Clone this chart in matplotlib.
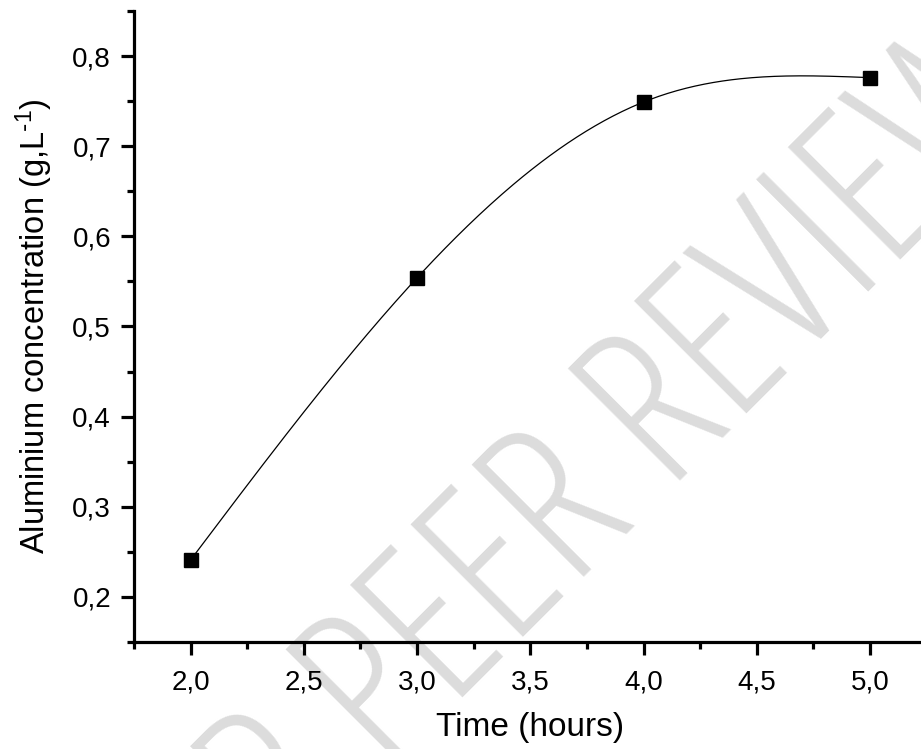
import numpy as np
import matplotlib.pyplot as plt

plt.rcParams['font.family'] = ['Liberation Sans', 'DejaVu Sans']
plt.rcParams['mathtext.default'] = 'regular'

# Data
time_h = [2.0, 3.0, 4.0, 5.0]
al_conc = [0.241, 0.554, 0.749, 0.776]

x_ticks = [2.0, 2.5, 3.0, 3.5, 4.0, 4.5, 5.0]
x_labels = ['2,0', '2,5', '3,0', '3,5', '4,0', '4,5', '5,0']
y_ticks = [0.2, 0.3, 0.4, 0.5, 0.6, 0.7, 0.8]
y_labels = ['0,2', '0,3', '0,4', '0,5', '0,6', '0,7', '0,8']


def natural_spline(x, y, xs):
    # natural cubic spline through the points (smooth connecting line)
    x = np.asarray(x, float)
    y = np.asarray(y, float)
    n = len(x)
    h = np.diff(x)
    A = np.zeros((n, n))
    b = np.zeros(n)
    A[0, 0] = A[-1, -1] = 1
    for i in range(1, n - 1):
        A[i, i - 1] = h[i - 1]
        A[i, i] = 2 * (h[i - 1] + h[i])
        A[i, i + 1] = h[i]
        b[i] = 6 * ((y[i + 1] - y[i]) / h[i] - (y[i] - y[i - 1]) / h[i - 1])
    M = np.linalg.solve(A, b)
    idx = np.clip(np.searchsorted(x, xs) - 1, 0, n - 2)
    x0, x1 = x[idx], x[idx + 1]
    hh = x1 - x0
    t0, t1 = x1 - xs, xs - x0
    return (M[idx] * t0**3 / (6 * hh) + M[idx + 1] * t1**3 / (6 * hh)
            + (y[idx] / hh - M[idx] * hh / 6) * t0
            + (y[idx + 1] / hh - M[idx + 1] * hh / 6) * t1)


fig = plt.figure(figsize=(9.21, 7.49), dpi=100)
ax = fig.add_axes([0.1455, 0.1429, 0.8607, 0.8425])
ax.patch.set_alpha(0)

# watermark
fig.text(0.656, 0.258, 'FOR PEER REVIEW', rotation=45, rotation_mode='anchor',
         ha='center', va='baseline', fontsize=160, color='#dcdcdc',
         family='Open Sans', fontstretch='condensed', zorder=-1)

xs = np.linspace(time_h[0], time_h[-1], 300)
ax.plot(xs, natural_spline(time_h, al_conc, xs), color='black', linewidth=0.9)
ax.plot(time_h, al_conc, 's', color='black', markersize=9.5)

ax.set_xlim(1.75, 5.25)
ax.set_ylim(0.15, 0.85)

ax.set_xticks(x_ticks)
ax.set_xticklabels(x_labels)
ax.set_xticks(np.arange(1.75, 5.3, 0.25), minor=True)
ax.set_yticks(y_ticks)
ax.set_yticklabels(y_labels)
ax.set_yticks(np.arange(0.15, 0.86, 0.05), minor=True)

for s in ['top', 'right']:
    ax.spines[s].set_visible(False)
for s in ['left', 'bottom']:
    ax.spines[s].set_linewidth(2.3)

ax.tick_params(which='major', direction='out', length=9.5, width=2.3,
               labelsize=20)
ax.tick_params(axis='x', which='major', pad=10)
ax.tick_params(axis='y', which='major', pad=7)
ax.tick_params(which='minor', direction='out', length=5, width=2.3)

ax.set_xlabel('Time (hours)', fontsize=24)
ax.set_ylabel(r'Aluminium concentration (g,L$^{\text{-}1}$)', fontsize=23.5)
ax.xaxis.set_label_coords(0.5, -0.136)
ax.xaxis.label.set_va('center')
ax.yaxis.set_label_coords(-0.126, 0.5)
ax.yaxis.label.set_va('center')

plt.savefig('out.png', dpi=100)
